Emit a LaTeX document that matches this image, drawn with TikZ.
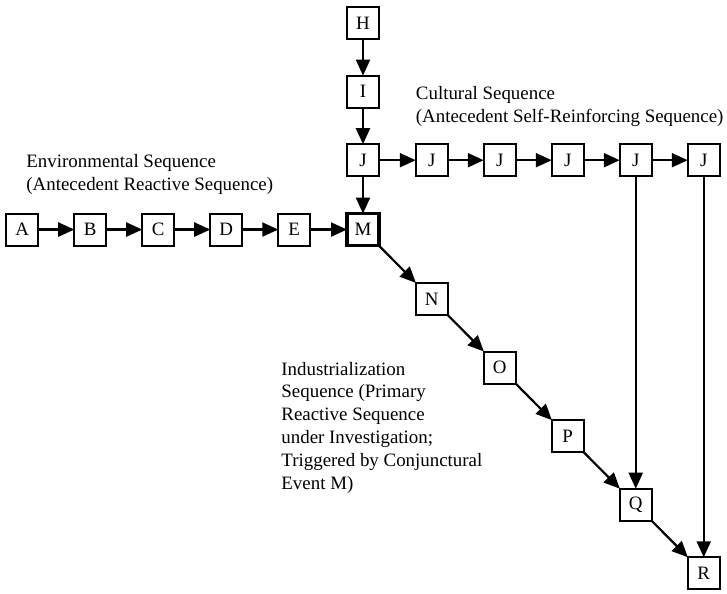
\documentclass[tikz,border=0pt]{standalone}
\usepackage{fontspec}
\setmainfont{Liberation Serif}
\usepackage{tikz}
\usetikzlibrary{matrix,arrows.meta,positioning,calc}

\tikzset{
  seqbox/.style={draw, line width=2pt, minimum size=32pt, inner sep=0pt,
                 outer sep=0pt, anchor=center},
  heavybox/.style={line width=3.5pt},
  seqarrow/.style={line width=2.2pt, -{Triangle[length=16pt,width=14pt]}},
  seqlabel/.style={anchor=north west, align=left, inner sep=0pt}
}

\begin{document}
\begin{tikzpicture}[x=1pt, y=1pt, font=\fontsize{18.9}{22.8}\selectfont]

% Event grid
\matrix (seq) [matrix of nodes,
               nodes={seqbox},
               row sep=34.6pt,
               column sep=34pt,
               ampersand replacement=\&] {
 \& \& \& \& \& H \\
 \& \& \& \& \& I \\
 \& \& \& \& \& J \& J \& J \& J \& J \& J \\
A \& B \& C \& D \& E \& |[heavybox]| M \\
 \& \& \& \& \& \& N \\
 \& \& \& \& \& \& \& O \\
 \& \& \& \& \& \& \& \& P \\
 \& \& \& \& \& \& \& \& \& Q \\
 \& \& \& \& \& \& \& \& \& \& R \\
};

\useasboundingbox ($(seq-1-6.center)+(-363,23)$) rectangle ($(seq-1-6.center)+(364,-567)$);

% Environmental sequence
\draw[seqarrow] (seq-4-1) edge (seq-4-2)
                (seq-4-2) edge (seq-4-3)
                (seq-4-3) edge (seq-4-4)
                (seq-4-4) edge (seq-4-5)
                (seq-4-5) edge (seq-4-6);

% Cultural sequence
\draw[seqarrow] (seq-1-6) edge (seq-2-6)
                (seq-2-6) edge (seq-3-6)
                (seq-3-6) edge (seq-4-6)
                (seq-3-6) edge (seq-3-7)
                (seq-3-7) edge (seq-3-8)
                (seq-3-8) edge (seq-3-9)
                (seq-3-9) edge (seq-3-10)
                (seq-3-10) edge (seq-3-11)
                (seq-3-10) edge (seq-8-10)
                (seq-3-11) edge (seq-9-11);

% Industrialization sequence
\draw[seqarrow] (seq-4-6) edge (seq-5-7)
                (seq-5-7) edge (seq-6-8)
                (seq-6-8) edge (seq-7-9)
                (seq-7-9) edge (seq-8-10)
                (seq-8-10) edge (seq-9-11);

% Sequence labels
\node[seqlabel] (envlabel) at ($(seq-4-1.center)+(4,75.5)$)
  {Environmental Sequence\\(Antecedent Reactive Sequence)};

\node[seqlabel] (cultlabel) at ($(seq-3-7.center)+(-16,73.8)$)
  {Cultural Sequence\\(Antecedent Self-Reinforcing Sequence)};

\node[seqlabel] (indlabel) at ($(seq-4-5.center)+(-13,-132.2)$)
  {Industrialization\\Sequence (Primary\\Reactive Sequence\\under Investigation;\\Triggered by Conjunctural\\Event M)};

\end{tikzpicture}
\end{document}
